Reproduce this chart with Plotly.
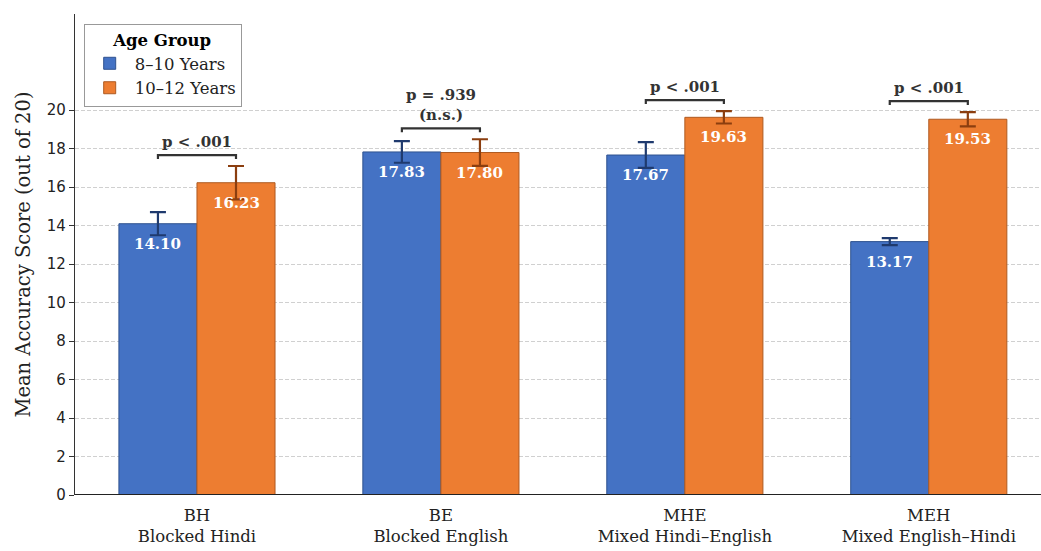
import plotly.graph_objects as go

codes = ["BH", "BE", "MHE", "MEH"]
names = ["Blocked Hindi", "Blocked English", "Mixed Hindi–English", "Mixed English–Hindi"]
young_mean = [14.10, 17.83, 17.67, 13.17]
young_sd = [0.60, 0.56, 0.67, 0.18]
old_mean = [16.23, 17.80, 19.63, 19.53]
old_sd = [0.87, 0.69, 0.32, 0.37]
p_labels = ["p < .001", "p = .939<br>(n.s.)", "p < .001", "p < .001"]
series_names = ["8–10 Years", "10–12 Years"]

SERIF = "DejaVu Serif"
BLUE, BLUE_EDGE, BLUE_ERR = "#4472C4", "#2F528F", "#1F3A6E"
ORANGE, ORANGE_EDGE, ORANGE_ERR = "#ED7D31", "#AE5A21", "#8B3E0F"

xs = list(range(len(codes)))
bw = 0.32

fig = go.Figure()
fig.add_trace(go.Bar(
    x=xs, y=young_mean, name=series_names[0], width=bw, offset=-bw, legendgroup="a",
    marker=dict(color=BLUE, line=dict(color=BLUE_EDGE, width=1)),
    error_y=dict(type="data", array=young_sd, color=BLUE_ERR, thickness=2.2, width=8),
))
fig.add_trace(go.Bar(
    x=xs, y=old_mean, name=series_names[1], width=bw, offset=0, legendgroup="b",
    marker=dict(color=ORANGE, line=dict(color=ORANGE_EDGE, width=1)),
    error_y=dict(type="data", array=old_sd, color=ORANGE_ERR, thickness=2.2, width=8),
))

shapes = []
annotations = []
for i in xs:
    for m, off in ((young_mean[i], -bw / 2), (old_mean[i], bw / 2)):
        annotations.append(dict(
            x=i + off, y=m, xref="x", yref="y", text=f"<b>{m:.2f}</b>",
            showarrow=False, yshift=-20, font=dict(family=SERIF, size=15, color="white"),
        ))
    top = max(young_mean[i] + young_sd[i], old_mean[i] + old_sd[i]) + 0.57
    x0, x1 = i - bw / 2, i + bw / 2
    shapes.append(dict(
        type="path", xref="x", yref="y",
        path=f"M {x0},{top-0.2} L {x0},{top} L {x1},{top} L {x1},{top-0.2}",
        line=dict(color="#333333", width=2.2),
    ))
    annotations.append(dict(
        x=i, y=top, xref="x", yref="y", text=f"<b>{p_labels[i]}</b>",
        showarrow=False, yanchor="bottom", yshift=2,
        font=dict(family=SERIF, size=15, color="#333333"),
    ))

fig.update_layout(
    width=1041, height=551,
    margin=dict(l=75, r=0, t=14, b=56),
    plot_bgcolor="white", paper_bgcolor="white",
    barmode="overlay",
    showlegend=True,
    legend=dict(
        title=dict(text="<b>Age Group</b>", font=dict(family=SERIF, size=16.5, color="black"), side="top center"),
        font=dict(family=SERIF, size=16.5, color="#222222"),
        x=0.009, y=0.98, xanchor="left", yanchor="top",
        bgcolor="rgba(255,255,255,0.9)", bordercolor="#999999", borderwidth=1,
        traceorder="normal", tracegroupgap=7, itemwidth=40,
    ),
    shapes=shapes,
    annotations=annotations,
    xaxis=dict(
        range=[-0.5, 3.46], tickvals=xs,
        ticktext=[f"{c}<br>{n}" for c, n in zip(codes, names)],
        tickfont=dict(family=SERIF, size=16.5, color="#222222"),
        showgrid=False, zeroline=False, ticks="", ticklabelstandoff=8,
        showline=False,
    ),
    yaxis=dict(
        range=[0, 25], tickvals=list(range(0, 21, 2)),
        tickfont=dict(family="DejaVu Sans", size=15, color="#222222"),
        title=dict(text="Mean Accuracy Score (out of 20)", font=dict(family=SERIF, size=19.5, color="#222222"), standoff=10),
        showgrid=True, gridcolor="#d0d0d0", griddash="4px,2px", gridwidth=0.8,
        zeroline=False, ticks="outside", ticklen=5, tickcolor="#333333",
        showline=True, linecolor="#333333", linewidth=1.2,
    ),
)
fig.add_shape(type="line", xref="paper", yref="y", x0=0, x1=1, y0=0, y1=0,
              line=dict(color="#222222", width=2))

fig.write_html("out.html")
